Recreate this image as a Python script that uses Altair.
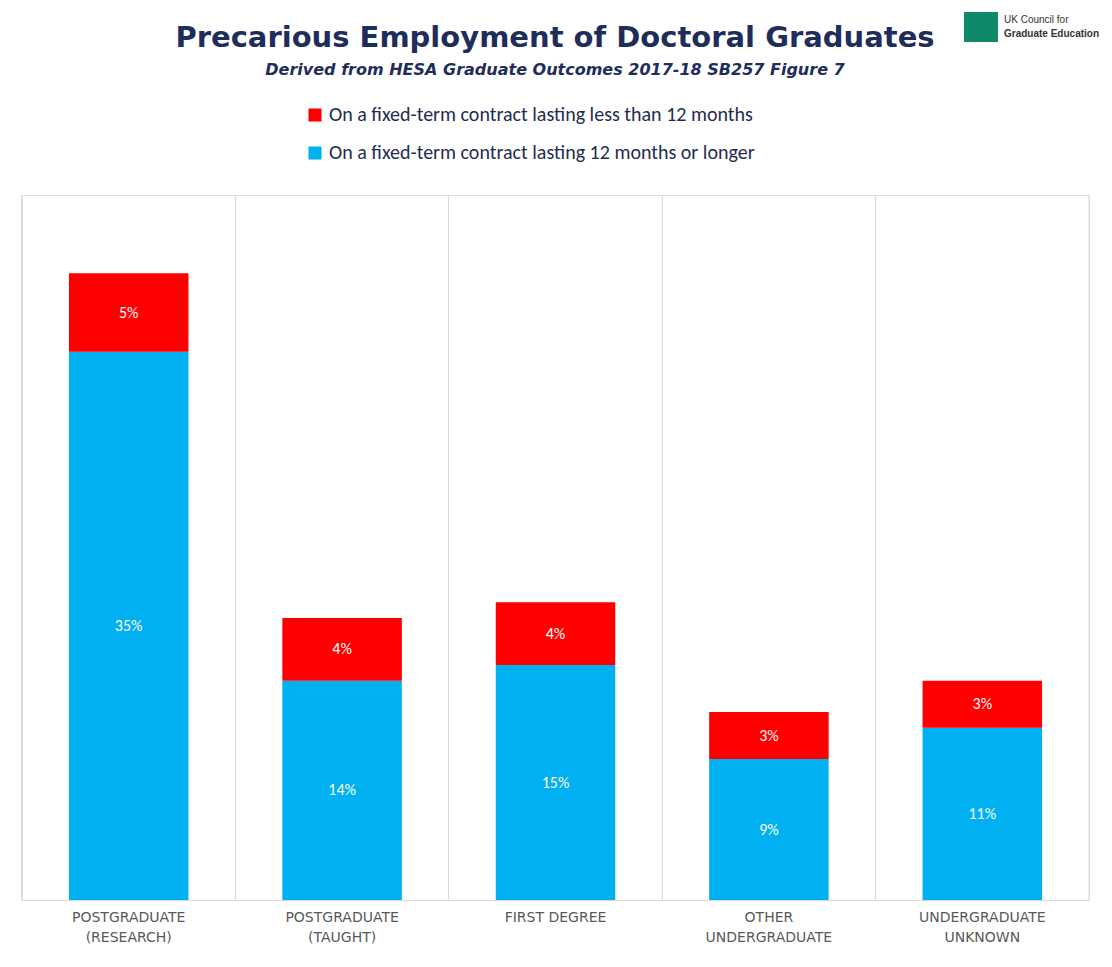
import altair as alt
import pandas as pd

categories = ["POSTGRADUATE|(RESEARCH)", "POSTGRADUATE|(TAUGHT)", "FIRST DEGREE",
              "OTHER|UNDERGRADUATE", "UNDERGRADUATE|UNKNOWN"]
long_term = [35, 14, 15, 9, 11]
short_term = [5, 4, 4, 3, 3]
series = ["On a fixed-term contract lasting less than 12 months",
          "On a fixed-term contract lasting 12 months or longer"]
title = "Precarious Employment of Doctoral Graduates"
subtitle = "Derived from HESA Graduate Outcomes 2017-18 SB257 Figure 7"

rows = []
for c, lo, sh in zip(categories, long_term, short_term):
    rows.append({"cat": c, "series": series[1], "start": 0, "end": lo, "mid": lo / 2, "lab": f"{lo}%"})
    rows.append({"cat": c, "series": series[0], "start": lo, "end": lo + sh, "mid": lo + sh / 2, "lab": f"{sh}%"})
df = pd.DataFrame(rows)

FONT = "Calibri, Liberation Sans, sans-serif"
W, H = 1067, 705
xs = alt.X("cat:N", sort=categories, title=None,
           scale=alt.Scale(paddingInner=0.44, paddingOuter=0.22),
           axis=alt.Axis(labelExpr="split(datum.label, '|')", labelAngle=0, labelFontSize=14,
                         labelColor="#595959", labelPadding=10, ticks=False, grid=True,
                         bandPosition=-0.393, gridColor="#D9D9D9", domainColor="#D9D9D9",
                         labelFont="DejaVu Sans", labelLineHeight=20))
ys = alt.Y("start:Q", scale=alt.Scale(domain=[0, 45]), axis=None)

bars = alt.Chart(df).mark_bar().encode(
    x=xs, y=ys, y2="end:Q",
    color=alt.Color("series:N", sort=series,
                    scale=alt.Scale(domain=series, range=["#FF0000", "#00B0F0"]),
                    legend=alt.Legend(title=None, orient="none", legendX=283, legendY=-90,
                                      direction="vertical", symbolType="square", symbolSize=170,
                                      symbolStrokeWidth=0, labelFontSize=20, labelColor="#1F2D4F",
                                      rowPadding=18, labelLimit=0, labelFont=FONT)),
)
labels = alt.Chart(df).mark_text(color="white", fontSize=16, font=FONT).encode(
    x=alt.X("cat:N", sort=categories), y=alt.Y("mid:Q"), text="lab:N")
right_edge = alt.Chart(pd.DataFrame({"a": [0]})).mark_rule(color="#D9D9D9").encode(
    x=alt.value(W), y=alt.value(0), y2=alt.value(H))
title_t = alt.Chart(pd.DataFrame({"t": [title]})).mark_text(
    fontSize=29, fontWeight="bold", color="#1F2D5C", font="DejaVu Sans").encode(
    x=alt.value(533), y=alt.value(-157), text="t:N")
sub_t = alt.Chart(pd.DataFrame({"t": [subtitle]})).mark_text(
    fontSize=16, fontWeight="bold", fontStyle="italic", color="#1F2D5C", font="DejaVu Sans").encode(
    x=alt.value(533), y=alt.value(-125), text="t:N")
logo_box = alt.Chart(pd.DataFrame({"a": [0]})).mark_rect(color="#0E8A6A").encode(
    x=alt.value(942), x2=alt.value(976), y=alt.value(-183), y2=alt.value(-153))
logo_t1 = alt.Chart(pd.DataFrame({"t": ["UK Council for"]})).mark_text(
    align="left", fontSize=10, color="#333333", font="Liberation Sans").encode(
    x=alt.value(982), y=alt.value(-175), text="t:N")
logo_t2 = alt.Chart(pd.DataFrame({"t": ["Graduate Education"]})).mark_text(
    align="left", fontSize=10, fontWeight="bold", color="#333333", font="Liberation Sans").encode(
    x=alt.value(982), y=alt.value(-161), text="t:N")

chart = (right_edge + bars + labels + title_t + sub_t + logo_box + logo_t1 + logo_t2).properties(
    width=W, height=H,
    autosize=alt.AutoSizeParams(type="none"),
    padding={"left": 14, "top": 187, "right": 15, "bottom": 70},
).configure_view(stroke="transparent").configure(background="white")

chart.save("out.html", embed_options={"renderer": "svg", "actions": False})
